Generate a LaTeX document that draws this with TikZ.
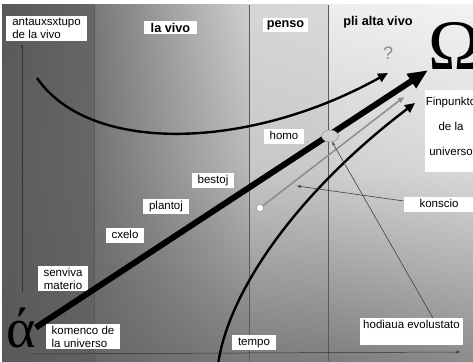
\documentclass[tikz,border=0pt]{standalone}
\usepackage{fontspec}
\setmainfont{Liberation Sans}
\newfontfamily\greekfont{Liberation Serif}
\usetikzlibrary{arrows.meta,shapes.geometric,shadings}

\begin{document}
\begin{tikzpicture}[x=1pt,y=1pt,
  tag/.style={fill=white,inner xsep=6pt,inner ysep=2pt,font=\fontsize{11.5}{13}\selectfont},
  oneline/.style={tag,text height=8.5pt,text depth=2.5pt},
  era/.style={inner sep=2pt,font=\bfseries\fontsize{12.7}{14}\selectfont},
  divider/.style={draw=black!65,line width=0.6pt},
  axis/.style={-{Stealth[length=4pt,width=3pt]},black!80,line width=0.5pt},
  pointer/.style={-{Stealth[length=4pt,width=3pt]},black!75,line width=0.6pt},
  trend/.style={-{Triangle[length=10pt,width=9pt]},line width=2.4pt},
  mainline/.style={-{Triangle[length=20pt,width=16pt]},line width=6pt}]
  \useasboundingbox (0,0) rectangle (473,361);
  \clip (0,0) rectangle (473,361);
  % background bands
  \shade[upper left=black!65,upper right=black!60,lower left=black!64,lower right=black!60] (2,191) rectangle (94,356);
  \shade[upper left=black!64,upper right=black!60,lower left=black!65,lower right=black!62] (2,0) rectangle (94,191);
  \shade[upper left=black!53,upper right=black!19,lower left=black!55,lower right=black!28] (94,191) rectangle (249,356);
  \shade[upper left=black!55,upper right=black!28,lower left=black!60,lower right=black!52] (94,0) rectangle (249,191);
  \shade[upper left=black!16,upper right=black!15,lower left=black!22,lower right=black!21] (249,191) rectangle (328,356);
  \shade[upper left=black!22,upper right=black!21,lower left=black!52,lower right=black!51] (249,0) rectangle (328,191);
  \shade[upper left=black!7,upper right=black!5,lower left=black!19,lower right=black!15] (328,191) rectangle (473,356);
  \shade[upper left=black!19,upper right=black!15,lower left=black!51,lower right=black!45] (328,0) rectangle (473,191);
  \foreach \x in {94,249,328}
    \draw[divider] (\x,0) -- (\x,356);
  \fill[white] (425,189) rectangle (480,271);

  % axes
  \coordinate (t0) at (30,7);
  \coordinate (t1) at (460,9);
  \coordinate (v0) at (22,69);
  \coordinate (v1) at (22,317);
  \draw[axis] (t0) -- (t1);
  \draw[axis] (v0) -- (v1);

  % labels
  \node[tag,align=left] (origin) at (46.5,332.5) {antauxsxtupo\\de la vivo};
  \node[era,fill=white,inner xsep=7pt] (life) at (170.5,333.5) {la vivo};
  \node[era,fill=white,inner xsep=4pt] (mind) at (285.5,336) {penso};
  \node[era] (higher) at (378,338.5) {pli alta vivo};
  \node[text=black!45,font=\fontsize{18}{18}\selectfont] (question) at (388,308) {?};
  \node[anchor=base west,inner sep=0pt,font=\greekfont\fontsize{71}{71}\selectfont] (omega) at (428,291) {Ω};
  \node[anchor=base west,inner sep=0pt,font=\greekfont\fontsize{56}{56}\selectfont] (alpha) at (6,14) {ά};
  \node[align=center,inner sep=0pt,font=\fontsize{11.5}{25}\selectfont] (endpoint) at (451,235) {Finpunkto\\de la\\universo};
  \node[oneline] (homo) at (284,224.5) {homo};
  \node[oneline] (animals) at (213,180.5) {bestoj};
  \node[oneline] (plants) at (166,154) {plantoj};
  \node[oneline] (cells) at (125,125.5) {cxelo};
  \node[tag,align=center] (matter) at (63,82.5) {senviva\\materio};
  \node[tag,align=left] (start) at (83,24.5) {komenco de\\la universo};
  \node[oneline] (time) at (254,18.5) {tempo};
  \node[oneline,minimum width=70pt] (aware) at (439,156) {konscio};
  \node[oneline,text depth=14pt,inner xsep=3pt] (today) at (411.5,29.5) {hodiaua evolustato};

  % evolution lines
  \coordinate (c0) at (37,283);
  \coordinate (c1) at (388,288);
  \draw[trend] (c0) .. controls (90,206) and (250,211) .. (c1);
  \coordinate (b0) at (218,-4);
  \coordinate (b1) at (415,258);
  \draw[trend] (b0) .. controls (228,71) and (300,171) .. (b1);
  \draw[mainline] (alpha.east) -- (omega.south west);
  \node[ellipse,draw=black!45,fill=black!18,minimum width=17pt,minimum height=12pt,inner sep=0pt] (now) at (330,225) {};
  \node[circle,draw=black!45,fill=white,minimum size=7pt,inner sep=0pt] (seed) at (260,153) {};
  \coordinate (g1) at (404,264);
  \draw[-{Triangle[length=6pt,width=5pt]},black!45,line width=1.5pt] (seed) -- (g1);

  % pointers
  \coordinate (k1) at (297,175);
  \draw[pointer] ([yshift=4pt]aware.west) -- (k1);
  \draw[pointer] ([xshift=-30pt]today.north east) -- (now.-70);
\end{tikzpicture}
\end{document}
